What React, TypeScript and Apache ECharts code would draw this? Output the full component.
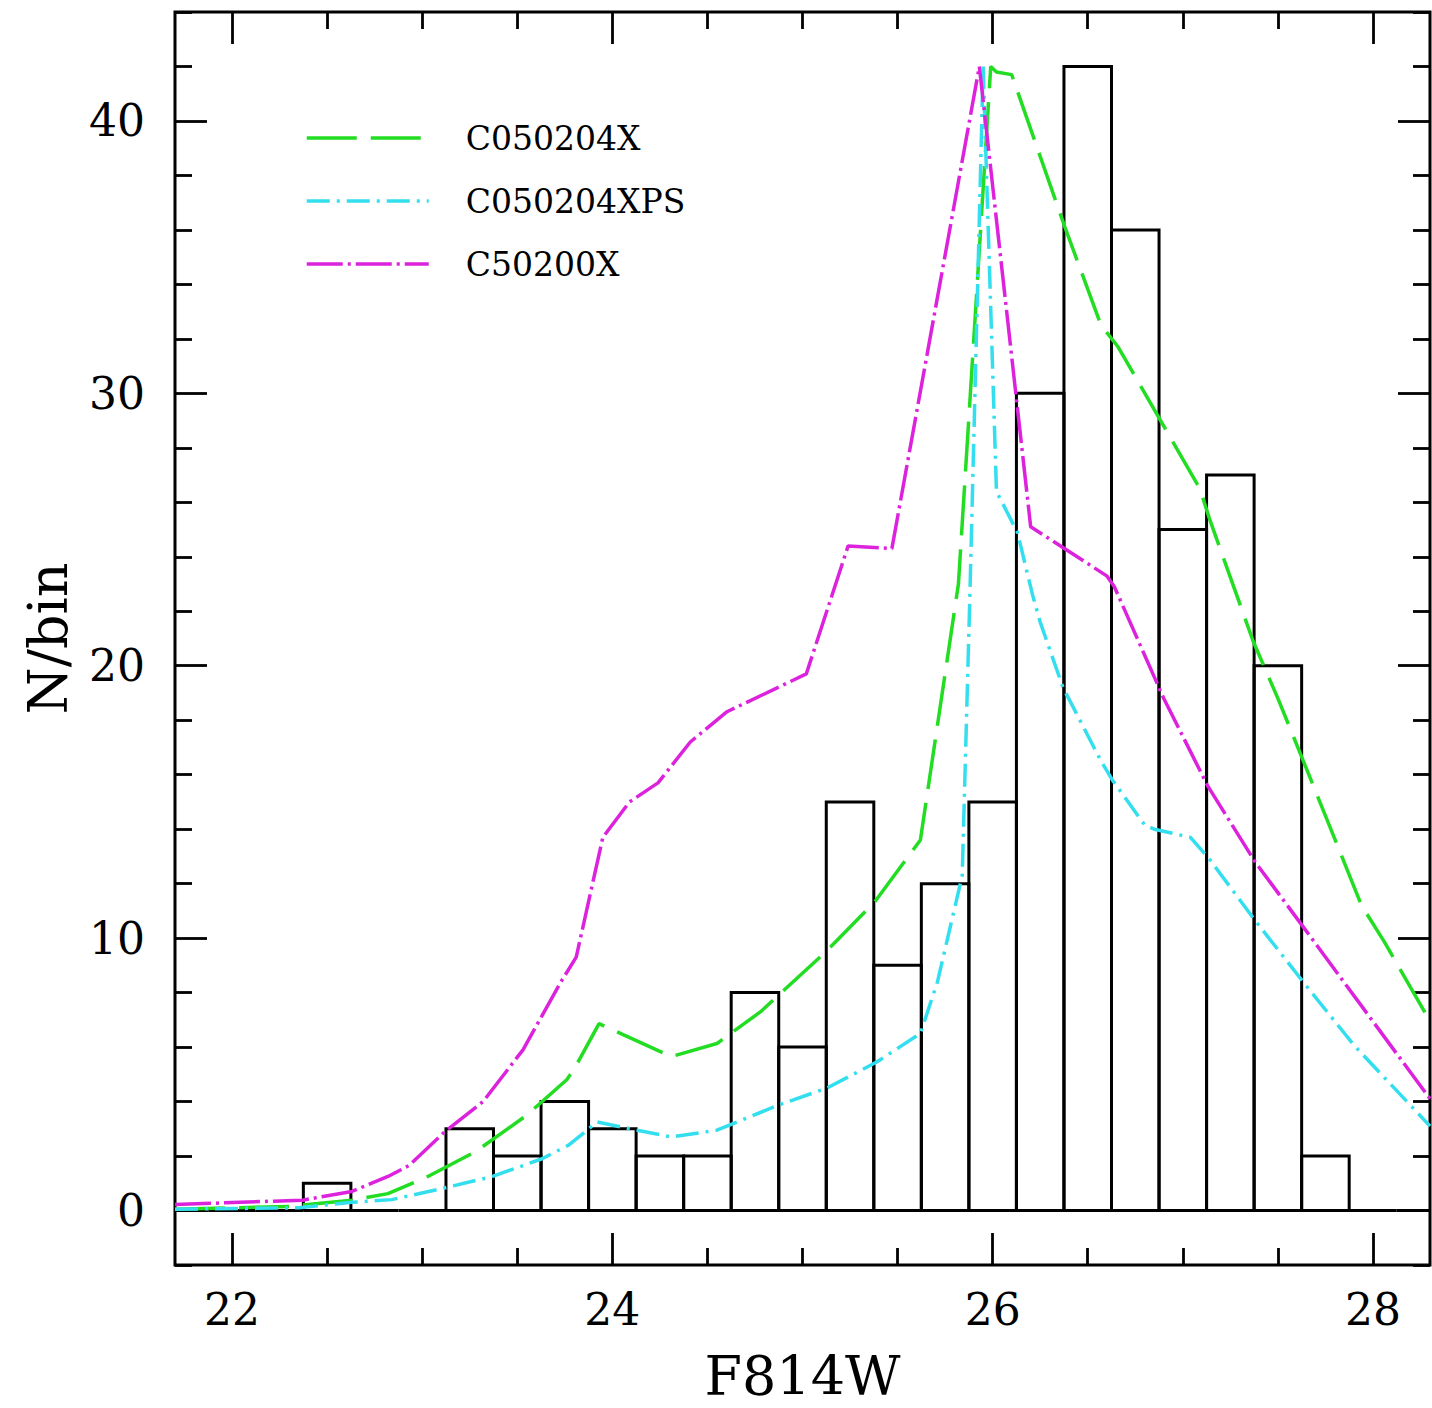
import React, { useEffect, useRef } from "react";
import * as echarts from "echarts";

// ---- axis ranges and ticks ----
const X_MIN = 21.7;
const X_MAX = 28.3;
const Y_MIN = -2;
const Y_MAX = 44;
const xMajorTicks = [22, 24, 26, 28];
const xMinorTicks = [22.5, 23, 23.5, 24.5, 25, 25.5, 26.5, 27, 27.5];
const yMajorTicks = [0, 10, 20, 30, 40];
const yMinorTicks = [-2, 2, 4, 6, 8, 12, 14, 16, 18, 22, 24, 26, 28, 32, 34, 36, 38, 42, 44];

// ---- histogram (observed counts per 0.25 mag bin) ----
const BIN_WIDTH = 0.25;
const binCenters = [
  21.75, 22.0, 22.25, 22.5, 22.75, 23.0, 23.25, 23.5, 23.75, 24.0, 24.25, 24.5, 24.75,
  25.0, 25.25, 25.5, 25.75, 26.0, 26.25, 26.5, 26.75, 27.0, 27.25, 27.5, 27.75, 28.0, 28.25,
];
const binCounts = [
  0, 0, 0, 1, 0, 0, 3, 2, 4, 3, 2, 2, 8,
  6, 15, 9, 12, 15, 30, 42, 36, 25, 27, 20, 2, 0, 0,
];

// ---- model curves ----
const greenName = "C050204X";
const greenX = [21.7, 22.3, 22.63, 22.82, 23.03, 23.28, 23.55, 23.76, 23.8, 23.93, 24.31, 24.55, 24.78, 25.13, 25.38, 25.62, 25.82, 25.9, 25.99, 26.02, 26.1, 26.38, 26.57, 26.66, 27.09, 27.14, 27.37, 27.5, 27.64, 27.94, 28.06, 28.3];
const greenY = [0.05, 0.15, 0.38, 0.62, 1.25, 2.16, 3.5, 4.8, 5.2, 6.86, 5.65, 6.13, 7.3, 9.55, 11.33, 13.6, 23.0, 31.9, 42.0, 41.8, 41.7, 36.1, 32.5, 31.7, 26.5, 25.4, 20.9, 18.8, 16.4, 11.2, 9.86, 6.95];

const cyanName = "C050204XPS";
const cyanX = [21.7, 22.35, 22.63, 22.84, 23.1, 23.37, 23.63, 23.77, 23.92, 24.13, 24.31, 24.55, 24.87, 25.13, 25.39, 25.62, 25.71, 25.84, 25.88, 25.95, 26.02, 26.13, 26.21, 26.25, 26.37, 26.57, 26.63, 26.8, 26.85, 27.04, 27.14, 27.38, 27.64, 27.9, 28.3];
const cyanY = [0.05, 0.1, 0.3, 0.4, 0.8, 1.25, 1.9, 2.4, 3.25, 2.95, 2.7, 2.95, 3.86, 4.5, 5.45, 6.5, 8.4, 12.3, 22.5, 42.0, 26.4, 24.9, 22.6, 21.6, 19.2, 16.5, 15.8, 14.15, 14.0, 13.7, 12.9, 10.65, 8.33, 6.07, 3.1];

const magentaName = "C50200X";
const magentaX = [21.7, 22.37, 22.63, 22.82, 22.93, 23.12, 23.32, 23.53, 23.73, 23.81, 23.95, 24.09, 24.24, 24.41, 24.6, 25.02, 25.24, 25.47, 25.93, 26.2, 26.6, 26.64, 26.9, 27.13, 27.38, 27.64, 28.3];
const magentaY = [0.22, 0.38, 0.7, 1.25, 1.65, 2.9, 4.0, 5.9, 8.4, 9.3, 13.7, 15.0, 15.7, 17.2, 18.3, 19.7, 24.4, 24.3, 42.0, 25.1, 23.3, 22.9, 18.8, 15.6, 12.8, 10.35, 4.1];

const FONT = "DejaVu Serif";
const BLACK = "#000000";
const GREEN = "#22dd22";
const CYAN = "#33dfee";
const MAGENTA = "#dd22dd";

function pairs(xs: number[], ys: number[]) {
  return xs.map((x, i) => [x, ys[i]]);
}

export default function App() {
  const ref = useRef<HTMLDivElement>(null);

  useEffect(() => {
    if (!ref.current) return;
    const chart = echarts.init(ref.current, null, { renderer: "svg" });

    const tickLine = { color: BLACK, width: 2.8 };
    const baseX = {
      type: "value" as const,
      min: X_MIN,
      max: X_MAX,
      gridIndex: 0,
      axisLine: { show: false, onZero: false },
      splitLine: { show: false },
    };
    const baseY = {
      type: "value" as const,
      min: Y_MIN,
      max: Y_MAX,
      gridIndex: 0,
      axisLine: { show: false, onZero: false },
      splitLine: { show: false },
    };

    const option: any = {
      animation: false,
      backgroundColor: "#ffffff",
      grid: {
        left: 175,
        top: 12,
        width: 1255,
        height: 1256,
        show: true,
        borderColor: BLACK,
        borderWidth: 3,
        backgroundColor: "transparent",
      },
      legend: {
        orient: "vertical",
        left: 300,
        top: 113,
        itemWidth: 122,
        itemHeight: 20,
        itemGap: 23,
        data: [greenName, cyanName, magentaName],
        itemStyle: { opacity: 0 },
        lineStyle: { width: 3.5 },
        textStyle: {
          fontFamily: FONT,
          fontSize: 33,
          color: BLACK,
          lineHeight: 40,
          padding: [0, 0, 0, 32],
        },
      },
      xAxis: [
        {
          ...baseX,
          position: "bottom",
          axisTick: { show: true, inside: true, length: 32, lineStyle: tickLine, customValues: xMajorTicks },
          axisLabel: {
            show: true,
            customValues: xMajorTicks,
            margin: 22,
            fontFamily: FONT,
            fontSize: 44,
            color: BLACK,
          },
          name: "F814W",
          nameLocation: "middle",
          nameGap: 84,
          nameTextStyle: { fontFamily: FONT, fontSize: 54, color: BLACK },
        },
        {
          ...baseX,
          position: "bottom",
          axisTick: { show: true, inside: true, length: 17, lineStyle: tickLine, customValues: xMinorTicks },
          axisLabel: { show: false },
        },
        {
          ...baseX,
          position: "top",
          axisTick: { show: true, inside: true, length: 32, lineStyle: tickLine, customValues: xMajorTicks },
          axisLabel: { show: false },
        },
        {
          ...baseX,
          position: "top",
          axisTick: { show: true, inside: true, length: 17, lineStyle: tickLine, customValues: xMinorTicks },
          axisLabel: { show: false },
        },
      ],
      yAxis: [
        {
          ...baseY,
          position: "left",
          axisTick: { show: true, inside: true, length: 32, lineStyle: tickLine, customValues: yMajorTicks },
          axisLabel: {
            show: true,
            customValues: yMajorTicks,
            margin: 30,
            fontFamily: FONT,
            fontSize: 44,
            color: BLACK,
          },
          name: "N/bin",
          nameLocation: "middle",
          nameGap: 100,
          nameTextStyle: { fontFamily: FONT, fontSize: 54, color: BLACK },
        },
        {
          ...baseY,
          position: "left",
          axisTick: { show: true, inside: true, length: 17, lineStyle: tickLine, customValues: yMinorTicks },
          axisLabel: { show: false },
        },
        {
          ...baseY,
          position: "right",
          axisTick: { show: true, inside: true, length: 32, lineStyle: tickLine, customValues: yMajorTicks },
          axisLabel: { show: false },
        },
        {
          ...baseY,
          position: "right",
          axisTick: { show: true, inside: true, length: 17, lineStyle: tickLine, customValues: yMinorTicks },
          axisLabel: { show: false },
        },
      ],
      series: [
        {
          type: "custom",
          name: "histogram",
          xAxisIndex: 0,
          yAxisIndex: 0,
          data: binCenters.map((c, i) => [c, binCounts[i]]),
          renderItem: (params: any, api: any) => {
            const c = api.value(0);
            const n = api.value(1);
            const p0 = api.coord([c - BIN_WIDTH / 2, 0]);
            const p1 = api.coord([c + BIN_WIDTH / 2, n]);
            const cs = params.coordSys;
            const lo = cs.x;
            const hi = cs.x + cs.width;
            const x0 = Math.max(lo, Math.min(hi, p0[0]));
            const x1 = Math.max(lo, Math.min(hi, p1[0]));
            return {
              type: "polyline",
              shape: {
                points: [
                  [x0, p0[1]],
                  [x0, p1[1]],
                  [x1, p1[1]],
                  [x1, p0[1]],
                  [x0, p0[1]],
                ],
              },
              style: { stroke: BLACK, lineWidth: 3, fill: "none" },
            };
          },
          z: 2,
        },
        {
          type: "line",
          name: greenName,
          xAxisIndex: 0,
          yAxisIndex: 0,
          data: pairs(greenX, greenY),
          symbol: "none",
          showSymbol: false,
          color: GREEN,
          lineStyle: { color: GREEN, width: 3.5, type: [50, 14] },
          z: 3,
        },
        {
          type: "line",
          name: cyanName,
          xAxisIndex: 0,
          yAxisIndex: 0,
          data: pairs(cyanX, cyanY),
          symbol: "none",
          showSymbol: false,
          color: CYAN,
          lineStyle: { color: CYAN, width: 3.5, type: [23, 7, 3, 7] },
          z: 3,
        },
        {
          type: "line",
          name: magentaName,
          xAxisIndex: 0,
          yAxisIndex: 0,
          data: pairs(magentaX, magentaY),
          symbol: "none",
          showSymbol: false,
          color: MAGENTA,
          lineStyle: { color: MAGENTA, width: 3.5, type: [36, 5, 3, 5] },
          z: 3,
        },
      ],
    };

    chart.setOption(option);
    return () => {
      chart.dispose();
    };
  }, []);

  return (
    <div
      ref={ref}
      style={{ position: "absolute", left: 0, top: 0, width: 1432, height: 1408, background: "#fff" }}
    />
  );
}
